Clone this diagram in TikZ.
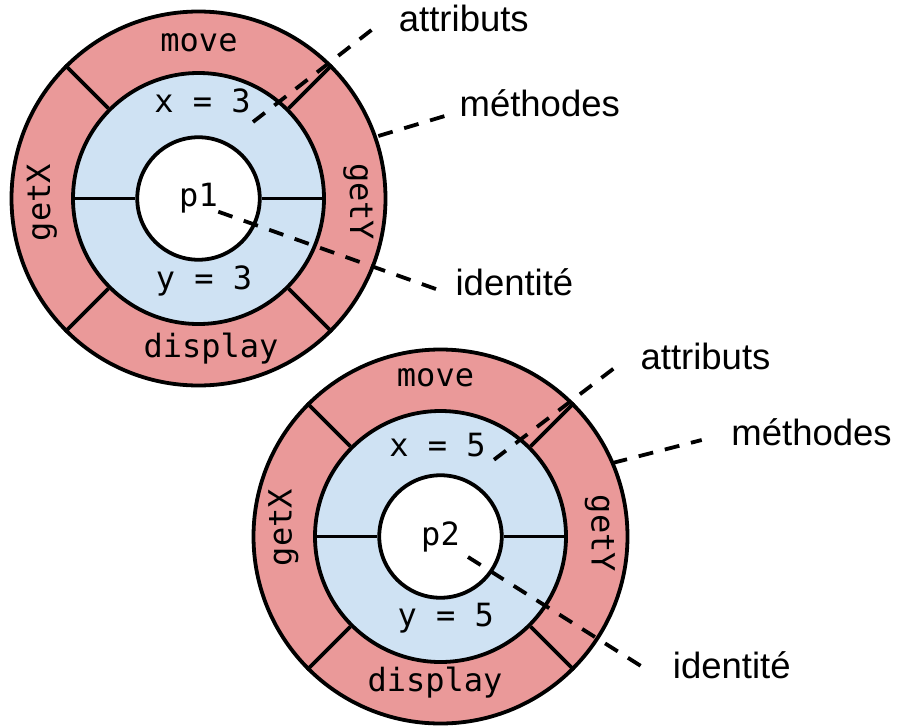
\documentclass[tikz,border=0pt]{standalone}
\usepackage{fontspec}
\setmainfont{Liberation Sans}
\setmonofont{DejaVu Sans Mono}
\usepackage{tikz}
\definecolor{colormeth}{HTML}{EA9999}
\definecolor{colorattr}{HTML}{CFE2F3}
\newcommand{\stylemembre}{\ttfamily\fontsize{32}{38}\selectfont}
\newcommand{\stylelegende}{\fontsize{36.5}{43}\selectfont}
\tikzstyle{methodes}=[circle, draw=black, fill=colormeth, minimum size=374pt, inner sep=0pt]
\tikzstyle{attributs}=[circle, draw=black, fill=colorattr, minimum size=251pt, inner sep=0pt]
\tikzstyle{identite}=[circle, draw=black, fill=white, minimum size=122.5pt, inner sep=0pt, font=\stylemembre]
\tikzstyle{membre}=[anchor=base, inner sep=0pt, font=\stylemembre]
\tikzstyle{legende}=[anchor=base west, inner sep=0pt, font=\stylelegende]
\tikzstyle{renvoi}=[dash pattern=on 15pt off 12pt]

\begin{document}
\begin{tikzpicture}[x=1pt, y=-1pt, line width=3.8pt]
	% coordinates in points, from the top left corner
	\useasboundingbox (0,0) rectangle (897,726);

	% first object: p1
	\node[methodes] at (198.5, 198.5) (p1-meth) {};
	\node[attributs] at (198.5, 198.5) (p1-attr) {};
	\node[identite] at (198.5, 198.5) (p1) {p1};
	\draw (p1-attr.45) -- (p1-meth.45) (p1-attr.135) -- (p1-meth.135)
		(p1-attr.225) -- (p1-meth.225) (p1-attr.315) -- (p1-meth.315);
	\draw (p1-attr.180) -- (p1.180) (p1.0) -- (p1-attr.0);

	\node[membre] at (199, 51.7) (p1-move) {move};
	\node[membre] at (211, 357.3) (p1-display) {display};
	\node[membre, rotate=90] at (50, 202.5) (p1-getx) {getX};
	\node[membre, rotate=-90] at (350, 201.7) (p1-gety) {getY};
	\node[membre] at (202.5, 112.7) (p1-x) {x = 3};
	\node[membre] at (204, 289.3) (p1-y) {y = 3};

	% second object: p2
	\node[methodes] at (440.5, 536.5) (p2-meth) {};
	\node[attributs] at (440.5, 536.5) (p2-attr) {};
	\node[identite] at (440.5, 536.5) (p2) {p2};
	\draw (p2-attr.45) -- (p2-meth.45) (p2-attr.135) -- (p2-meth.135)
		(p2-attr.225) -- (p2-meth.225) (p2-attr.315) -- (p2-meth.315);
	\draw (p2-attr.180) -- (p2.180) (p2.0) -- (p2-attr.0);

	\node[membre] at (435.5, 386) (p2-move) {move};
	\node[membre] at (435, 691.7) (p2-display) {display};
	\node[membre, rotate=90] at (291.7, 527.5) (p2-getx) {getX};
	\node[membre, rotate=-90] at (591.7, 533.3) (p2-gety) {getY};
	\node[membre] at (437.5, 456.7) (p2-x) {x = 5};
	\node[membre] at (445.8, 626.7) (p2-y) {y = 5};

	% legends
	\node[legende] at (397, 31.7) (p1-lattr) {attributs};
	\node[legende] at (457.7, 116.7) (p1-lmeth) {méthodes};
	\node[legende] at (453.7, 295) (p1-lid) {identité};
	\node[legende] at (638.7, 369.3) (p2-lattr) {attributs};
	\node[legende] at (729.5, 445) (p2-lmeth) {méthodes};
	\node[legende] at (671, 678.3) (p2-lid) {identité};

	\coordinate (p1-attr-a) at (253, 122);
	\coordinate (p1-attr-b) at (377.3, 25.5);
	\coordinate (p1-meth-a) at (378.3, 136);
	\coordinate (p1-meth-b) at (446.5, 115.5);
	\coordinate (p1-id-a) at (218.3, 211.7);
	\coordinate (p1-id-b) at (436.7, 289.3);
	\coordinate (p2-attr-a) at (494, 459.7);
	\coordinate (p2-attr-b) at (618.3, 365);
	\coordinate (p2-meth-a) at (612.5, 463);
	\coordinate (p2-meth-b) at (701.7, 440);
	\coordinate (p2-id-a) at (468, 557);
	\coordinate (p2-id-b) at (647.3, 670);

	\draw[renvoi] (p1-attr-a) -- (p1-attr-b);
	\draw[renvoi] (p1-meth-a) -- (p1-meth-b);
	\draw[renvoi] (p1-id-a) -- (p1-id-b);
	\draw[renvoi] (p2-attr-a) -- (p2-attr-b);
	\draw[renvoi] (p2-meth-a) -- (p2-meth-b);
	\draw[renvoi] (p2-id-a) -- (p2-id-b);

\end{tikzpicture}
\end{document}
